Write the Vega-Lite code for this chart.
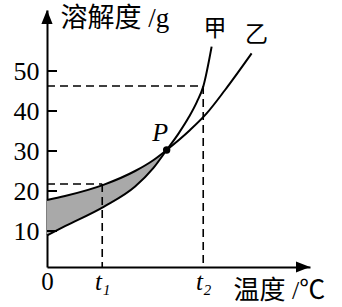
{
  "$schema": "https://vega.github.io/schema/vega-lite/v6.json",
  "width": 263,
  "height": 257,
  "autosize": {"type": "none"},
  "padding": {"left": 47, "top": 10, "right": 32, "bottom": 40},
  "background": "white",
  "config": {"view": {"stroke": null}, "font": "Liberation Serif"},
  "datasets": {
    "band": [
      {"u": 0, "lo": 8.9, "hi": 17.75},
      {"u": 6.84, "lo": 11.2, "hi": 18.75},
      {"u": 21.7, "lo": 16.1, "hi": 21.6},
      {"u": 33.5, "lo": 21.1, "hi": 25.0},
      {"u": 40.4, "lo": 25.7, "hi": 27.7},
      {"u": 45.5, "lo": 30.25, "hi": 30.25}
    ],
    "curves": [
      {"s": "甲", "u": 0, "v": 8.9},
      {"s": "甲", "u": 6.84, "v": 11.2},
      {"s": "甲", "u": 21.7, "v": 16.1},
      {"s": "甲", "u": 33.5, "v": 21.1},
      {"s": "甲", "u": 40.4, "v": 25.7},
      {"s": "甲", "u": 45.5, "v": 30.25},
      {"s": "甲", "u": 50, "v": 34.35},
      {"s": "甲", "u": 54, "v": 38.55},
      {"s": "甲", "u": 57, "v": 42.3},
      {"s": "甲", "u": 59.4, "v": 46.1},
      {"s": "甲", "u": 62.6, "v": 56.1},
      {"s": "乙", "u": 0, "v": 17.75},
      {"s": "乙", "u": 6.84, "v": 18.75},
      {"s": "乙", "u": 21.7, "v": 21.6},
      {"s": "乙", "u": 33.5, "v": 25.0},
      {"s": "乙", "u": 40.4, "v": 27.7},
      {"s": "乙", "u": 45.5, "v": 30.25},
      {"s": "乙", "u": 54.4, "v": 35.25},
      {"s": "乙", "u": 60.7, "v": 39.4},
      {"s": "乙", "u": 67.7, "v": 45.25},
      {"s": "乙", "u": 77.8, "v": 54.4}
    ],
    "guides": [
      {"x1": 0, "y1": 21.75, "x2": 21, "y2": 21.75},
      {"x1": 21, "y1": 21.75, "x2": 21, "y2": 1},
      {"x1": 0, "y1": 46.25, "x2": 59.4, "y2": 46.25},
      {"x1": 59.4, "y1": 46.25, "x2": 59.4, "y2": 1}
    ],
    "yticks": [
      {"v": 10, "a": 1.9},
      {"v": 20, "a": 1.9},
      {"v": 30, "a": 1.9},
      {"v": 40, "a": 1.9},
      {"v": 50, "a": 1.9}
    ],
    "point": [{"u": 45.5, "v": 30.25}],
    "names": [
      {"u": 63.9, "v": 60.5, "t": "甲"},
      {"u": 79.7, "v": 59.0, "t": "乙"}
    ],
    "plabel": [{"u": 43.0, "v": 34.5, "t": "P"}],
    "arrowUp": [{"u": 0, "v": 65.25}],
    "arrowRight": [{"u": 100, "v": 1}]
  },
  "layer": [
    {
      "data": {"name": "band"},
      "mark": {"type": "area", "interpolate": "monotone", "fill": "#a9a9a9", "opacity": 1},
      "encoding": {
        "x": {
          "field": "u", "type": "quantitative",
          "scale": {"domain": [0, 100], "nice": false, "zero": false},
          "axis": {
            "values": [0, 21, 59.4],
            "labelExpr": "datum.value == 0 ? '0' : (datum.value < 30 ? 't₁' : 't₂')",
            "grid": false,
            "ticks": false,
            "domainColor": "black",
            "domainWidth": 2,
            "labelFont": "Liberation Serif",
            "labelFontSize": 25,
            "labelColor": "black",
            "labelFlush": false,
            "labelPadding": 2,
            "labelFontStyle": {"condition": {"test": "datum.value > 0", "value": "italic"}, "value": "normal"},
            "title": "温度 /℃",
            "titleFont": "Liberation Serif, Noto Sans CJK SC",
            "titleFontWeight": "normal",
            "titleFontSize": 26,
            "titleColor": "black",
            "titleAnchor": "start",
            "titleAlign": "left",
            "titleBaseline": "middle",
            "titleX": 186,
            "titleY": 23
          }
        },
        "y": {
          "field": "lo", "type": "quantitative",
          "scale": {"domain": [1, 65.25], "nice": false, "zero": false},
          "axis": {
            "values": [10, 20, 30, 40, 50],
            "grid": false,
            "ticks": false,
            "domainColor": "black",
            "domainWidth": 2,
            "labelFont": "Liberation Serif",
            "labelFontSize": 26,
            "labelColor": "black",
            "labelPadding": 8,
            "labelBaseline": "middle",
            "title": "溶解度 /g",
            "titleFont": "Liberation Serif, Noto Sans CJK SC",
            "titleFontWeight": "normal",
            "titleFontSize": 27,
            "titleColor": "black",
            "titleAngle": 0,
            "titleAlign": "left",
            "titleBaseline": "middle",
            "titleX": 13,
            "titleY": 8
          }
        },
        "y2": {"field": "hi"}
      }
    },
    {
      "data": {"name": "yticks"},
      "mark": {"type": "tick", "orient": "horizontal", "color": "black", "thickness": 2, "size": 10, "opacity": 1},
      "encoding": {
        "x": {"field": "a", "type": "quantitative"},
        "y": {"field": "v", "type": "quantitative"}
      }
    },
    {
      "data": {"name": "guides"},
      "mark": {"type": "rule", "color": "black", "strokeWidth": 1.6, "strokeDash": [8, 5]},
      "encoding": {
        "x": {"field": "x1", "type": "quantitative"},
        "x2": {"field": "x2"},
        "y": {"field": "y1", "type": "quantitative"},
        "y2": {"field": "y2"}
      }
    },
    {
      "data": {"name": "curves"},
      "mark": {"type": "line", "interpolate": "monotone", "color": "black", "strokeWidth": 2},
      "encoding": {
        "x": {"field": "u", "type": "quantitative"},
        "y": {"field": "v", "type": "quantitative"},
        "detail": {"field": "s"}
      }
    },
    {
      "data": {"name": "point"},
      "mark": {"type": "point", "filled": true, "color": "black", "size": 55, "opacity": 1},
      "encoding": {
        "x": {"field": "u", "type": "quantitative"},
        "y": {"field": "v", "type": "quantitative"}
      }
    },
    {
      "data": {"name": "names"},
      "mark": {"type": "text", "font": "Noto Sans CJK SC", "fontSize": 23, "color": "black", "align": "center", "baseline": "middle"},
      "encoding": {
        "x": {"field": "u", "type": "quantitative"},
        "y": {"field": "v", "type": "quantitative"},
        "text": {"field": "t"}
      }
    },
    {
      "data": {"name": "plabel"},
      "mark": {"type": "text", "font": "Liberation Serif", "fontStyle": "italic", "fontSize": 26, "color": "black", "align": "center", "baseline": "middle"},
      "encoding": {
        "x": {"field": "u", "type": "quantitative"},
        "y": {"field": "v", "type": "quantitative"},
        "text": {"field": "t"}
      }
    },
    {
      "data": {"name": "arrowUp"},
      "mark": {"type": "point", "shape": "M0,0L-0.8,2L0.8,2Z", "filled": true, "color": "black", "size": 196, "opacity": 1, "strokeWidth": 0},
      "encoding": {
        "x": {"field": "u", "type": "quantitative"},
        "y": {"field": "v", "type": "quantitative"}
      }
    },
    {
      "data": {"name": "arrowRight"},
      "mark": {"type": "point", "shape": "M0,0L-2,-0.8L-2,0.8Z", "filled": true, "color": "black", "size": 196, "opacity": 1, "strokeWidth": 0},
      "encoding": {
        "x": {"field": "u", "type": "quantitative"},
        "y": {"field": "v", "type": "quantitative"}
      }
    }
  ]
}
